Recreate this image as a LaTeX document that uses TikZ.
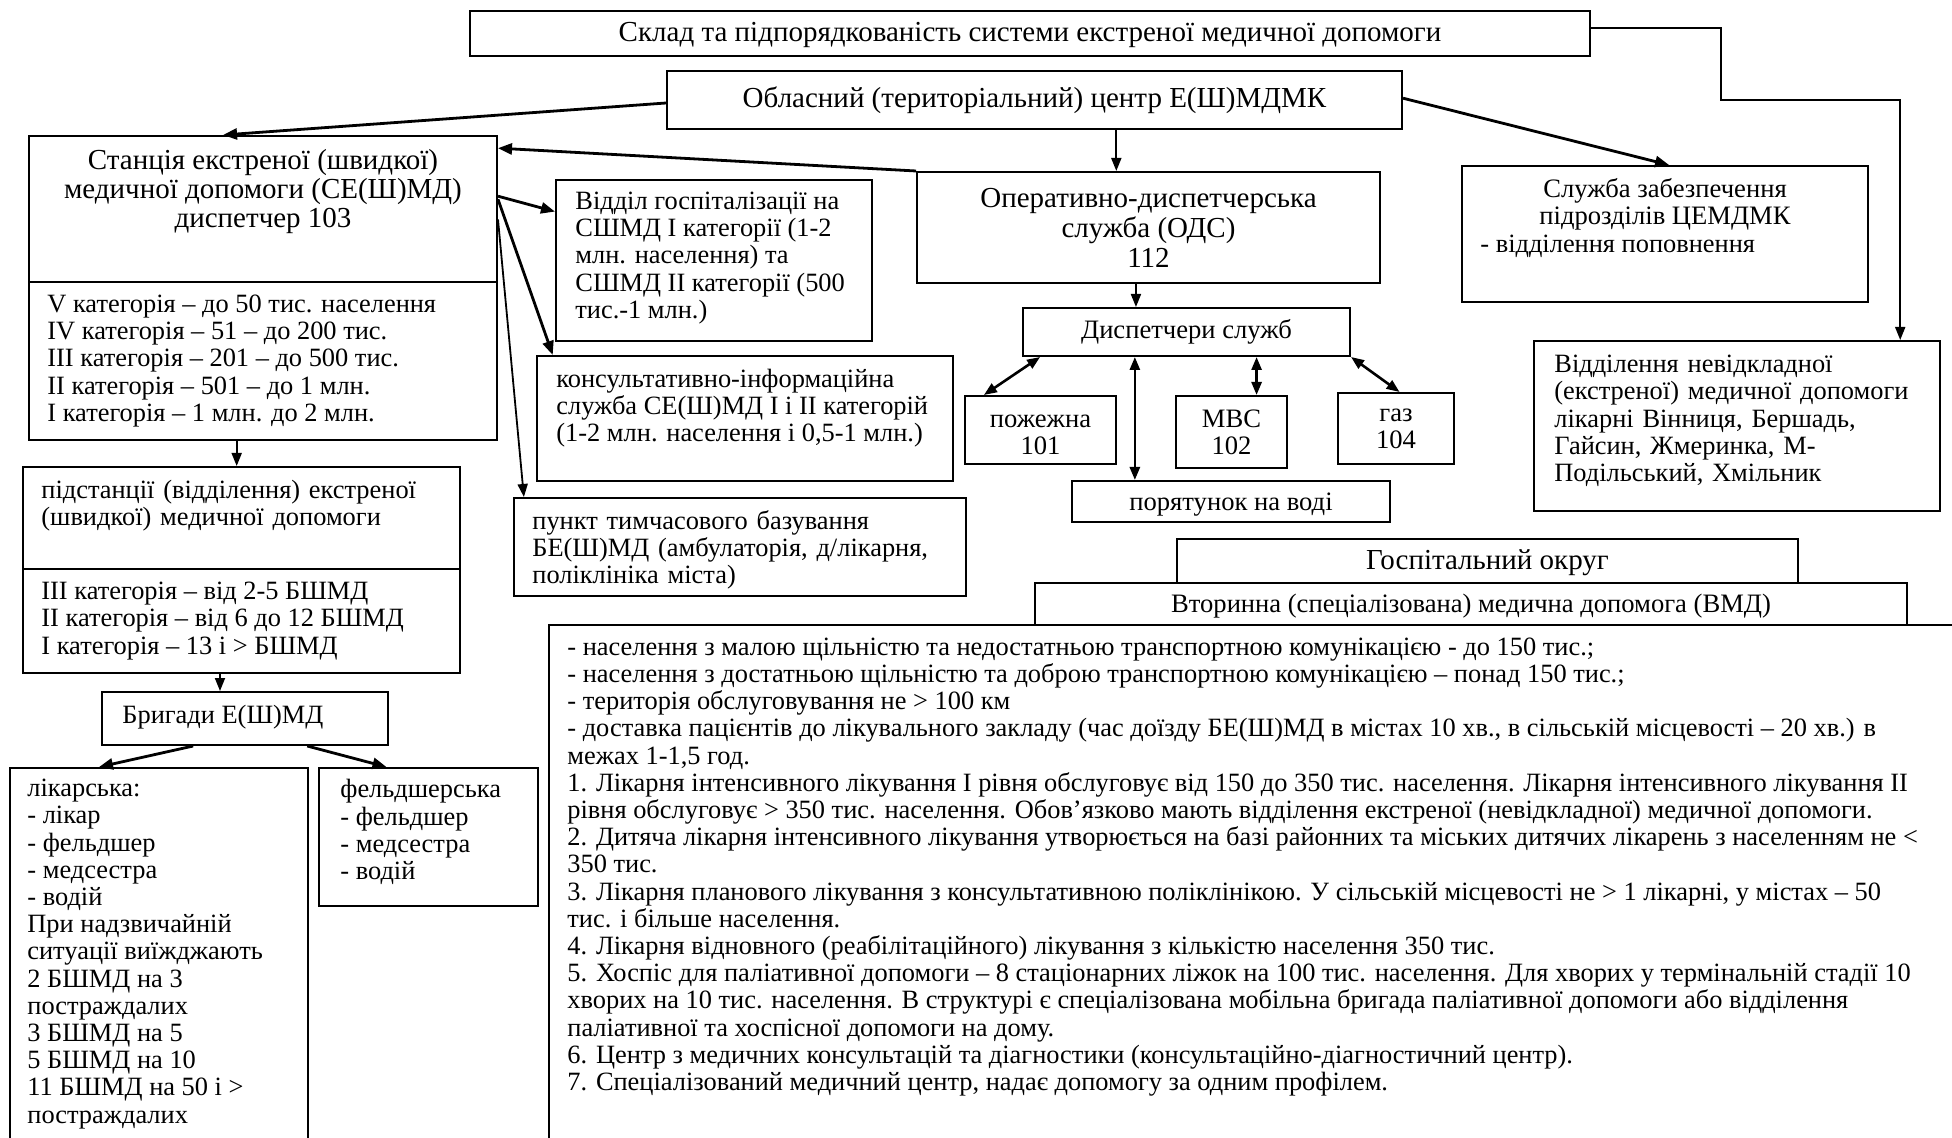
\documentclass[tikz,border=0pt]{standalone}
\usepackage{fontspec}
\setmainfont{Liberation Serif}
\usetikzlibrary{arrows.meta,calc,fit}
\begin{document}
\begin{tikzpicture}[x=0.5pt,y=-0.5pt,
  box/.style={draw, line width=1pt, inner sep=0pt},
  txt/.style={font=\fontsize{13.2}{13.6}\selectfont, inner sep=0pt, align=left},
  ctxt/.style={font=\fontsize{13.3}{13.6}\selectfont, inner sep=0pt, align=center},
  btxt/.style={font=\fontsize{14.5}{15}\selectfont, inner sep=0pt, align=center},
  arr/.style={-{Triangle[length=7pt,width=5.5pt]}, line width=1.4pt},
  tarr/.style={-{Triangle[length=6.5pt,width=5pt]}, line width=0.9pt},
  darr/.style={{Triangle[length=6.5pt,width=5pt]}-{Triangle[length=6.5pt,width=5pt]}, line width=1.3pt}]
\useasboundingbox (0,0) rectangle (1952,1138);
\clip (0,0) rectangle (1952,1138);

% boxes
\node[box, fit={(470,11)(1590,56)}] (title) {};
\node[box, fit={(667,71)(1402,129)}] (obl) {};
\node[box, fit={(29,136)(497,440)}] (stan) {};
\draw[line width=1pt] ($(stan.north west)+(0,147)$) -- ($(stan.north east)+(0,147)$);
\node[box, fit={(556,180)(872,341)}] (vidd) {};
\node[box, fit={(537,356)(953,481)}] (kons) {};
\node[box, fit={(514,498)(966,596)}] (punkt) {};
\node[box, fit={(23,467)(460,673)}] (pid) {};
\draw[line width=1pt] ($(pid.north west)+(0,103)$) -- ($(pid.north east)+(0,103)$);
\node[box, fit={(102,692)(388,745)}] (brig) {};
\node[box, fit={(10,768)(308,1200)}] (likar) {};
\node[box, fit={(319,768)(538,906)}] (feld) {};
\node[box, fit={(917,172)(1380,283)}] (ods) {};
\node[box, fit={(1023,308)(1350,356)}] (disp) {};
\node[box, fit={(965,396)(1116,464)}] (pozh) {};
\node[box, fit={(1176,396)(1287,468)}] (mvs) {};
\node[box, fit={(1338,393)(1454,464)}] (gaz) {};
\node[box, fit={(1072,481)(1390,522)}] (por) {};
\node[box, fit={(1462,166)(1868,302)}] (zab) {};
\node[box, fit={(1534,341)(1940,511)}] (nevid) {};
\node[box, fit={(1177,539)(1798,583)}] (hosp) {};
\node[box, fit={(1035,583)(1907,625)}] (vmd) {};
\node[box, fit={(549,625)(2000,1200)}] (vmdtext) {};

% texts
\node[btxt] (t-title) at ($(title.center)+(0,1)$) {Склад та підпорядкованість системи екстреної медичної допомоги};
\node[btxt] (t-obl) at (obl.center) {Обласний (територіальний) центр Е(Ш)МДМК};
\node[btxt, font=\fontsize{14.5}{14.5}\selectfont] (t-stan) at (263,192) {Станція екстреної (швидкої)\\медичної допомоги (СЕ(Ш)МД)\\диспетчер 103};
\node[txt, anchor=west] (t-stan2) at (47,361) {V категорія – до 50 тис. населення\\IV категорія – 51 – до 200 тис.\\III категорія – 201 – до 500 тис.\\II категорія – 501 – до 1 млн.\\I категорія – 1 млн. до 2 млн.};
\node[txt, anchor=west] (t-vidd) at (575,258) {Відділ госпіталізації на\\СШМД І категорії (1-2\\млн. населення) та\\СШМД ІІ категорії (500\\тис.-1 млн.)};
\node[txt, anchor=west] (t-kons) at (556,408) {консультативно-інформаційна\\служба СЕ(Ш)МД І і ІІ категорій\\(1-2 млн. населення і 0,5-1 млн.)};
\node[txt, anchor=west, text width=207.5pt] (t-punkt) at (532,550) {\makebox[\linewidth][s]{пункт тимчасового базування}\\\makebox[\linewidth][s]{БЕ(Ш)МД (амбулаторія, д/лікарня,}\\поліклініка міста)};
\node[txt, anchor=west, text width=200.5pt] (t-pid) at (41,506) {\makebox[\linewidth][s]{підстанції (відділення) екстреної}\\(швидкої) медичної допомоги};
\node[txt, anchor=west] (t-pid2) at (41,621) {III категорія – від 2-5 БШМД\\II категорія – від 6 до 12 БШМД\\I категорія – 13 і > БШМД};
\node[txt, anchor=west] (t-brig) at (122,717) {Бригади Е(Ш)МД};
\node[txt, anchor=west] (t-likar) at (27,954) {лікарська:\\- лікар\\- фельдшер\\- медсестра\\- водій\\При надзвичайній\\ситуації виїжджають\\2 БШМД на 3\\постраждалих\\3 БШМД на 5\\5 БШМД на 10\\11 БШМД на 50 і >\\постраждалих};
\node[txt, anchor=west] (t-feld) at (340,832) {фельдшерська\\- фельдшер\\- медсестра\\- водій};
\node[btxt] (t-ods) at (ods.center) {Оперативно-диспетчерська\\служба (ОДС)\\112};
\node[ctxt] (t-disp) at (disp.center) {Диспетчери служб};
\node[ctxt] (t-pozh) at ($(pozh.center)+(0,5)$) {пожежна\\101};
\node[ctxt] (t-mvs) at (mvs.center) {МВС\\102};
\node[ctxt] (t-gaz) at (gaz.center) {газ\\104};
\node[ctxt] (t-por) at ($(por.center)+(0,3)$) {порятунок на воді};
\node[ctxt] (t-zab) at (1665,204) {Служба забезпечення\\підрозділів ЦЕМДМК};
\node[txt, anchor=west] (t-zab2) at (1480,246) {- відділення поповнення};
\node[txt, anchor=west, text width=184.5pt] (t-nevid) at (1554,421) {\makebox[\linewidth][s]{Відділення невідкладної}\\\makebox[\linewidth][s]{(екстреної) медичної допомоги}\\\makebox[\linewidth][s]{лікарні Вінниця, Бершадь,}\\\makebox[\linewidth][s]{Гайсин, Жмеринка, М-}\\Подільський, Хмільник};
\node[btxt] (t-hosp) at ($(hosp.center)+(0,2)$) {Госпітальний округ};
\node[ctxt] (t-vmd) at ($(vmd.center)+(0,2)$) {Вторинна (спеціалізована) медична допомога (ВМД)};
\node[txt, anchor=west] (t-vmdtext) at (567,867) {- населення з малою щільністю та недостатньою транспортною комунікацією - до 150 тис.;\\
- населення з достатньою щільністю та доброю транспортною комунікацією – понад 150 тис.;\\
- територія обслуговування не > 100 км\\
- доставка пацієнтів до лікувального закладу (час доїзду БЕ(Ш)МД в містах 10 хв., в сільській місцевості – 20 хв.) в\\
межах 1-1,5 год.\\
1. Лікарня інтенсивного лікування І рівня обслуговує від 150 до 350 тис. населення. Лікарня інтенсивного лікування ІІ\\
рівня обслуговує > 350 тис. населення. Обов’язково мають відділення екстреної (невідкладної) медичної допомоги.\\
2. Дитяча лікарня інтенсивного лікування утворюється на базі районних та міських дитячих лікарень з населенням не <\\
350 тис.\\
3. Лікарня планового лікування з консультативною поліклінікою. У сільській місцевості не > 1 лікарні, у містах – 50\\
тис. і більше населення.\\
4. Лікарня відновного (реабілітаційного) лікування з кількістю населення 350 тис.\\
5. Хоспіс для паліативної допомоги – 8 стаціонарних ліжок на 100 тис. населення. Для хворих у термінальній стадії 10\\
хворих на 10 тис. населення. В структурі є спеціалізована мобільна бригада паліативної допомоги або відділення\\
паліативної та хоспісної допомоги на дому.\\
6. Центр з медичних консультацій та діагностики (консультаційно-діагностичний центр).\\
7. Спеціалізований медичний центр, надає допомогу за одним профілем.};

% connectors
\draw[arr] ($(obl.south west)!0.45!(obl.north west)$) -- ($(stan.north west)!0.415!(stan.north east)$);
\coordinate (o1) at ($(obl.south west)!0.611!(obl.south east)$);
\draw[tarr] (o1) -- (o1 |- ods.north);
\draw[arr] ($(obl.north east)!0.47!(obl.south east)$) -- ($(zab.north west)!0.51!(zab.north east)$);
\draw[tarr] ($(title.north east)!0.39!(title.south east)$) -- ++(130,0) -- ++(0,72) -| ($(nevid.north west)!0.9!(nevid.north east)$);
\draw[arr] (ods.north west) -- ($(stan.north east)!0.043!(stan.south east)$);
\draw[arr] ($(stan.north east)!0.2!(stan.south east)$) -- ($(vidd.north west)!0.2!(vidd.south west)$);
\draw[arr] ($(stan.north east)!0.21!(stan.south east)$) -- ($(kons.north west)!0.04!(kons.north east)$);
\draw[tarr] ($(stan.north east)!0.276!(stan.south east)$) -- ($(punkt.north west)!0.024!(punkt.north east)$);
\coordinate (s1) at ($(stan.south west)!0.444!(stan.south east)$);
\draw[tarr] (s1) -- (s1 |- pid.north);
\coordinate (p1) at ($(pid.south west)!0.451!(pid.south east)$);
\draw[tarr] (p1) -- (p1 |- brig.north);
\draw[arr] ($(brig.south west)!0.32!(brig.south east)$) -- ($(likar.north west)!0.3!(likar.north east)$);
\draw[arr] ($(brig.south west)!0.716!(brig.south east)$) -- ($(feld.north west)!0.31!(feld.north east)$);
\coordinate (q1) at ($(ods.south west)!0.473!(ods.south east)$);
\draw[tarr] (q1) -- (q1 |- disp.north);
\coordinate (d1) at ($(disp.south west)!0.055!(disp.south east)$);
\draw[darr] (d1) -- ($(pozh.north west)!0.13!(pozh.north east)$);
\coordinate (d2) at ($(disp.south west)!0.343!(disp.south east)$);
\draw[darr] (d2) -- (d2 |- por.north);
\coordinate (d3) at ($(disp.south west)!0.713!(disp.south east)$);
\draw[darr] (d3) -- (d3 |- mvs.north);
\draw[darr] (disp.south east) -- ($(gaz.north west)!0.53!(gaz.north east)$);
\end{tikzpicture}
\end{document}
